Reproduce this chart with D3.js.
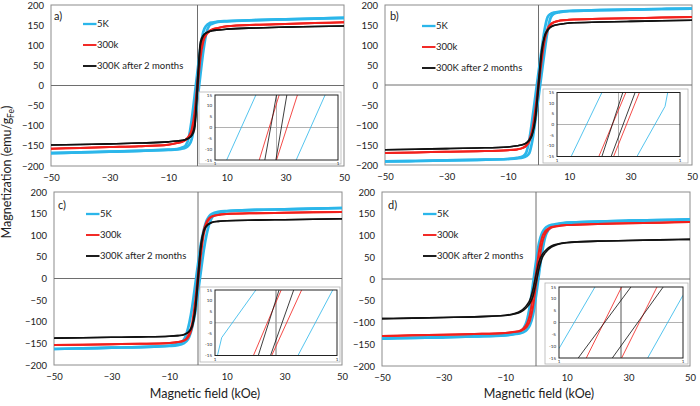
<!DOCTYPE html>
<html><head><meta charset="utf-8">
<script src="https://cdn.jsdelivr.net/npm/d3@7"></script>
<style>
body{margin:0;background:#fff}
svg{display:block}
text{font-family:Lato,"Liberation Sans",sans-serif;fill:#222}
</style>
</head><body>
<svg id="chart" width="700" height="406"></svg>
<script>
// ---------- DATA ----------
const field = [-50,-40,-30,-20,-10,-7,-5,-4,-3,-2,-1,0,1,2,3,4,5,7,10,20,30,40,50];
const seriesNames = ["5K","300k","300K after 2 months"];
const panelLabels = ["a)","b)","c)","d)"];
const xTicks = [-50,-30,-10,10,30,50];
const yTicks = [-200,-150,-100,-50,0,50,100,150,200];
const insetYTicks = [-15,-10,-5,0,5,10,15];
const insetXTickLabels = ["1","1"];

// ascending branch magnetization (emu/gFe) at each field value; descending branch is its point mirror
const a5K     = [-168,-166.3,-164.5,-162.5,-160,-159,-156.5,-154.5,-148.5,-134,-93,-35,27,86,130,148.5,153.5,158,159.5,162.5,164.5,166,168];
const a300k   = [-157,-155,-153,-151,-147,-143,-139.5,-135.5,-129,-115,-81,-13,66,109,126,134,138.5,143,147,151,153,155,157];
const a300k2m = [-148,-146.5,-145,-143,-140,-138,-136,-134,-131,-125,-109,-14,100,123,130.5,134,136,138,140,143,145,146.5,148];

const b5K     = [-191,-190,-188.5,-187,-185,-183.5,-181,-178,-170.5,-139,-87,-31,27,85,137,169,178,182,185,187,188.5,190,191];
const b300k   = [-170,-168.5,-167,-165.5,-163,-161,-157,-152.5,-141.5,-118,-73,-8,58,110,137,150.5,156.5,161,163,165.5,167,168.5,170];
const b300k2m = [-162,-160.5,-159,-157.5,-155,-152,-149,-145.5,-139,-123.5,-87,-8,75,120,136.5,144.5,149,152,155,157.5,159,160.5,162];

const c5K     = [-163,-161.5,-160,-158.5,-156,-154,-150,-145,-134,-112,-80,-33,16.5,65,102.5,128,142.5,151,155.5,158.5,160,161.5,163];
const c300k   = [-154,-153,-152,-151,-149,-147,-144,-140.5,-131.5,-111.5,-70,-10,52.5,101.5,126.5,138.5,143.5,147,149,151,152,153,154];
const c300k2m = [-138,-137,-136,-135,-133.5,-132,-130,-127.5,-122.5,-111,-80,-8,68,107.5,121,126.5,130,132,133.5,135,136,137,138];

const d5K     = [-137,-135.5,-134,-132,-129.5,-127,-124.5,-122,-117,-106,-83,-39,13,62,97,113,120,125.5,129,132,134,135.5,137];
const d300k   = [-131,-129.5,-128,-126.5,-124,-122,-119.5,-116,-110,-96.5,-65,-14.5,37.5,82.5,103.5,113,118,121.5,124,126.5,128,129.5,131];
const d300k2m = [-91,-90,-88.5,-87,-84,-80.5,-76,-71.5,-65,-56,-40,-9.5,24,48.5,60,68,73.5,79.5,83.5,87,88.5,90,91];

// inset (zoom near origin): branches as [field, magnetization] points, field in inset units (-1..1)
const insetA5K     = [[[-0.81,-15],[-0.335,15]], [[0.32,-15],[0.79,15]]];
const insetA300k   = [[[-0.28,-15],[0.043,15]], [[0.0,-15],[0.34,15]]];
const insetA300k2m = [[[-0.19,-15],[0.0,15]],   [[-0.01,-15],[0.168,15]]];

const insetB5K     = [[[-0.77,-15],[-0.27,15]], [[0.30,-15],[0.757,8.5],[0.80,15]]];
const insetB300k   = [[[-0.32,-15],[0.12,15]],  [[-0.08,-15],[0.34,15]]];
const insetB300k2m = [[[-0.27,-15],[0.07,15]],  [[-0.12,-15],[0.27,15]]];

const insetC5K     = [[[-0.96,-15],[-0.89,-6.8],[-0.33,15]], [[0.36,-15],[0.93,15]]];
const insetC300k   = [[[-0.37,-15],[0.085,15]], [[-0.07,-15],[0.42,15]]];
const insetC300k2m = [[[-0.29,-15],[0.05,15]],  [[-0.09,-15],[0.29,15]]];

const insetD5K     = [[[-1.0,-11],[-0.42,15]],  [[0.43,-15],[1.0,11.5]]];
const insetD300k   = [[[-0.56,-15],[0.01,15]],  [[0.01,-15],[0.58,15]]];
const insetD300k2m = [[[-0.69,-15],[0.16,15]],  [[-0.14,-15],[0.68,15]]];

// ---------- STYLE / LAYOUT ----------
const colors = ["#2bb6ea","#f2201c","#111111"];
const widths = [2.7,2,1.6];
const panels = [
  {data:[a5K,a300k,a300k2m], inset:[insetA5K,insetA300k,insetA300k2m],
   x0:51,x1:344,y0:5,y1:166, ix0:215,ix1:338,iy0:95,iy1:160, ox0:199,ox1:341,oy0:92,oy1:164,
   lx:83,ly:24, tx:54,ty:20, title:false},
  {data:[b5K,b300k,b300k2m], inset:[insetB5K,insetB300k,insetB300k2m],
   x0:385,x1:692,y0:5,y1:165, ix0:557,ix1:680,iy0:92.5,iy1:156.5, ox0:543,ox1:688,oy0:89,oy1:163,
   lx:422,ly:26, tx:390,ty:20, title:false},
  {data:[c5K,c300k,c300k2m], inset:[insetC5K,insetC300k,insetC300k2m],
   x0:54,x1:342,y0:192,y1:365, ix0:215,ix1:337,iy0:290,iy1:355.5, ox0:200,ox1:340,oy0:287,oy1:362,
   lx:86,ly:214, tx:58,ty:209, title:true},
  {data:[d5K,d300k,d300k2m], inset:[insetD5K,insetD300k,insetD300k2m],
   x0:382,x1:690,y0:192,y1:366, ix0:559,ix1:683,iy0:287,iy1:358, ox0:545,ox1:688,oy0:283,oy1:364,
   lx:423,ly:214, tx:388,ty:209, title:true}
];

const svg = d3.select("#chart");

panels.forEach((p, pi) => {
  const g = svg.append("g");
  const x = d3.scaleLinear().domain([-50,50]).range([p.x0,p.x1]);
  const y = d3.scaleLinear().domain([-200,200]).range([p.y1,p.y0]);

  // frame
  g.append("rect").attr("x",p.x0).attr("y",p.y0).attr("width",p.x1-p.x0).attr("height",p.y1-p.y0)
    .attr("fill","none").attr("stroke","#8c8c8c").attr("stroke-width",1);
  // zero lines
  g.append("line").attr("x1",p.x0).attr("x2",p.x1).attr("y1",y(0)).attr("y2",y(0))
    .attr("stroke","#6e6e6e").attr("stroke-width",1);
  g.append("line").attr("x1",x(0)).attr("x2",x(0)).attr("y1",p.y0).attr("y2",p.y1)
    .attr("stroke","#6e6e6e").attr("stroke-width",1);

  // axes (labels only)
  const yAxis = d3.axisLeft(y).tickValues(yTicks).tickSize(0).tickPadding(7);
  const ya = g.append("g").attr("transform",`translate(${p.x0},0)`).call(yAxis);
  ya.select(".domain").remove();
  ya.selectAll("text").style("font-size","9.5px").style("font-family","Lato").attr("fill","#222");
  const xAxis = d3.axisBottom(x).tickValues(xTicks).tickSize(0).tickPadding(8);
  const xa = g.append("g").attr("transform",`translate(0,${p.y1})`).call(xAxis);
  xa.select(".domain").remove();
  xa.selectAll("text").style("font-size","9.5px").style("font-family","Lato").attr("fill","#222");

  // curves
  const line = d3.line().x(d=>x(d[0])).y(d=>y(d[1])).curve(d3.curveMonotoneX);
  p.data.forEach((vals, si) => {
    const asc = field.map((h,i)=>[h, vals[i]]);
    const desc = field.map((h,i)=>[h, -vals[field.length-1-i]]);
    [asc, desc].forEach(br => {
      g.append("path").attr("d", line(br)).attr("fill","none")
        .attr("stroke", colors[si]).attr("stroke-width", widths[si]).attr("stroke-linejoin","round");
    });
  });

  // panel label
  g.append("text").attr("x",p.tx).attr("y",p.ty).text(panelLabels[pi]).style("font-size","11px");

  // legend
  seriesNames.forEach((name, si) => {
    const ly = p.ly + si*21;
    g.append("line").attr("x1",p.lx).attr("x2",p.lx+13.5).attr("y1",ly).attr("y2",ly)
      .attr("stroke",colors[si]).attr("stroke-width",si===0?2.3:1.9);
    g.append("text").attr("x",p.lx+14).attr("y",ly+3.3).text(name).style("font-size","9.5px");
  });

  // inset
  const ig = g.append("g");
  ig.append("rect").attr("x",p.ox0).attr("y",p.oy0).attr("width",p.ox1-p.ox0).attr("height",p.oy1-p.oy0)
    .attr("fill","#fff").attr("stroke","#b5b5b5").attr("stroke-width",0.8);
  const ix = d3.scaleLinear().domain([-1,1]).range([p.ix0,p.ix1]);
  const iy = d3.scaleLinear().domain([-15,15]).range([p.iy1,p.iy0]);
  const clipId = "clip"+pi;
  ig.append("clipPath").attr("id",clipId).append("rect")
    .attr("x",p.ix0).attr("y",p.iy0).attr("width",p.ix1-p.ix0).attr("height",p.iy1-p.iy0);
  ig.append("line").attr("x1",p.ix0).attr("x2",p.ix1).attr("y1",iy(0)).attr("y2",iy(0))
    .attr("stroke","#a8a8a8").attr("stroke-width",0.9);
  ig.append("line").attr("x1",ix(0)).attr("x2",ix(0)).attr("y1",p.iy0).attr("y2",p.iy1)
    .attr("stroke", pi===3 ? "#444" : "#a8a8a8").attr("stroke-width", pi===2?1.6:0.9);
  const iline = d3.line().x(d=>ix(d[0])).y(d=>iy(d[1]));
  const lines = ig.append("g").attr("clip-path",`url(#${clipId})`);
  p.inset.forEach((branches, si) => {
    branches.forEach(br => {
      lines.append("path").attr("d", iline(br)).attr("fill","none")
        .attr("stroke", colors[si]).attr("stroke-width",0.9).attr("stroke-opacity",0.9);
    });
  });
  ig.append("rect").attr("x",p.ix0).attr("y",p.iy0).attr("width",p.ix1-p.ix0).attr("height",p.iy1-p.iy0)
    .attr("fill","none").attr("stroke","#222").attr("stroke-width",1);
  insetYTicks.forEach(t => {
    ig.append("text").attr("x",p.ix0-3).attr("y",iy(t)+1.5).attr("text-anchor","end")
      .text(t).style("font-size","4.5px").attr("fill","#444");
  });
  [-1,1].forEach((t,k) => {
    ig.append("text").attr("x",ix(t)).attr("y",p.iy1+5).attr("text-anchor","middle")
      .text(insetXTickLabels[k]).style("font-size","4.5px").attr("fill","#444");
  });

  if (p.title) {
    g.append("text").attr("x",(p.x0+p.x1)/2 + (pi===2?7:3)).attr("y",398).attr("text-anchor","middle")
      .text("Magnetic field (kOe)").style("font-size","12.5px");
  }
});

// y axis title
const yt = svg.append("text").attr("transform","translate(11,172) rotate(-90)")
  .attr("text-anchor","middle").style("font-size","12.5px");
yt.append("tspan").text("Magnetization (emu/g");
yt.append("tspan").text("Fe").style("font-size","8.5px").attr("dy","2.5");
yt.append("tspan").text(")").attr("dy","-2.5");
</script>
</body></html>
